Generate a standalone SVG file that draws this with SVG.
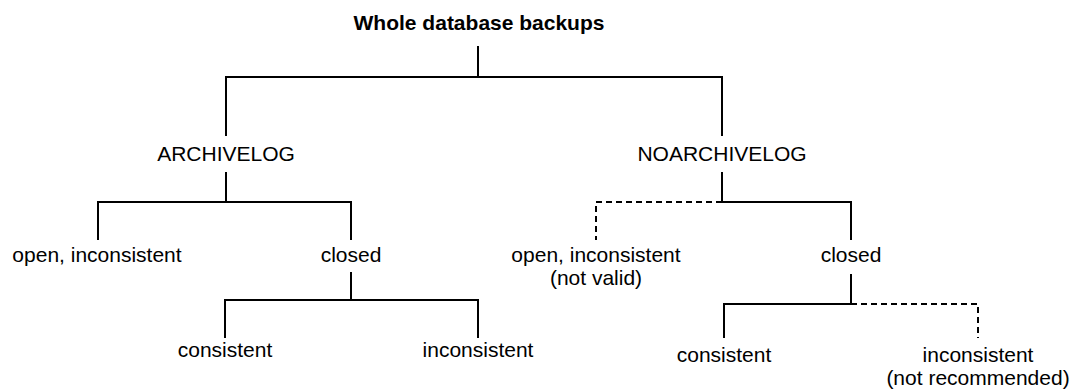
<svg xmlns="http://www.w3.org/2000/svg" width="1070" height="390" viewBox="0 0 1070 390">
<style>
.t{font-family:"Liberation Sans",Arial,sans-serif;font-size:21px;fill:#000;text-anchor:middle}
.b{font-weight:bold}
.s{fill:none;stroke:#000;stroke-width:2}
.d{fill:none;stroke:#000;stroke-width:2;stroke-dasharray:6 4}
</style>
<rect width="1070" height="390" fill="#fff"/>
<g id="connectors">
<path class="s" d="M478,46V77M226,136V77H722V136"/>
<path class="s" d="M226,172V202M98,240V202H351V240"/>
<path class="s" d="M351,272V300M225,338V300H478V338"/>
<path class="s" d="M722,172V202H851V240"/>
<path class="d" d="M722,202H596V240"/>
<path class="s" d="M851,274V304H724V338"/>
<path class="d" d="M851,304H978V338"/>
</g>
<g id="root"><text class="t b" x="479" y="30">Whole database backups</text></g>
<g id="archivelog"><text class="t" x="226" y="161">ARCHIVELOG</text></g>
<g id="noarchivelog"><text class="t" x="722" y="161">NOARCHIVELOG</text></g>
<g id="a-open"><text class="t" x="97" y="262">open, inconsistent</text></g>
<g id="a-closed"><text class="t" x="351" y="262">closed</text></g>
<g id="a-consistent"><text class="t" x="225" y="357">consistent</text></g>
<g id="a-inconsistent"><text class="t" x="478" y="357">inconsistent</text></g>
<g id="n-open"><text class="t" x="596" y="262">open, inconsistent</text><text class="t" x="596" y="285">(not valid)</text></g>
<g id="n-closed"><text class="t" x="851" y="262">closed</text></g>
<g id="n-consistent"><text class="t" x="724" y="362">consistent</text></g>
<g id="n-inconsistent"><text class="t" x="978" y="362">inconsistent</text><text class="t" x="978" y="385">(not recommended)</text></g>
</svg>
